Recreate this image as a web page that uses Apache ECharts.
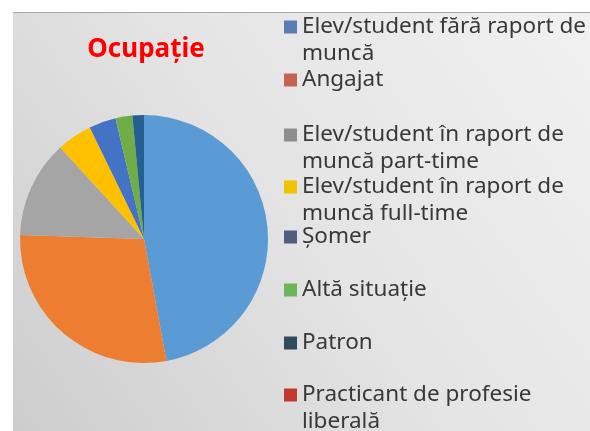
<!DOCTYPE html>
<html>
<head>
<meta charset="utf-8">
<script src="https://cdn.jsdelivr.net/npm/echarts@6/dist/echarts.min.js"></script>
<style>
  html, body { margin: 0; padding: 0; background: #ffffff; }
  #chart { width: 590px; height: 431px; }
</style>
</head>
<body>
<div id="chart"></div>
<script>
// categories (legend lines split where the original wraps)
var categories = [
  "Elev/student fără raport de\nmuncă",
  "Angajat",
  "Elev/student în raport de\nmuncă part-time",
  "Elev/student în raport de\nmuncă full-time",
  "Șomer",
  "Altă situație",
  "Patron",
  "Practicant de profesie\nliberală"
];
// share of respondents, %
var values = [47.1, 28.4, 12.7, 4.6, 3.5, 2.2, 1.5, 0];
var sliceColors = ["#5B9BD5", "#ED7D31", "#A5A5A5", "#FFC000", "#4472C4", "#70AD47", "#255E91", "#9E480E"];
var legendColors = ["#5A7CB0", "#C4634F", "#8E8E8E", "#F2C200", "#505F80", "#6BB55A", "#2E4A5C", "#C0392B"];
// marker centre (y) of each legend entry
var legendY = [27, 80, 135, 187, 237, 290, 343, 395];

var chart = echarts.init(document.getElementById("chart"));

// one legend per entry; wrapped names get an empty line on top so the
// marker sits next to the first line, like the original
var legends = categories.map(function (name, i) {
  var twoLines = name.indexOf("\n") >= 0;
  return {
    orient: "vertical",
    left: 284,
    top: twoLines ? legendY[i] - 40.5 : legendY[i] - 13.5,
    padding: 0,
    itemWidth: 13,
    itemHeight: 13,
    itemGap: 0,
    icon: "rect",
    selectedMode: false,
    data: [{ name: name, itemStyle: { color: legendColors[i] } }],
    formatter: function (n) {
      return n.indexOf("\n") >= 0 ? " \n" + n : n;
    },
    textStyle: {
      fontFamily: "Noto Sans",
      fontSize: 22.5,
      lineHeight: 27,
      color: "#383838"
    }
  };
});

var option = {
  animation: false,
  graphic: [
    {
      type: "rect",
      z: -10,
      shape: { x: 13, y: 12, width: 577, height: 419 },
      style: {
        fill: new echarts.graphic.LinearGradient(0, 1, 1, 0, [
          { offset: 0, color: "#cdcdcd" },
          { offset: 0.5, color: "#e4e4e4" },
          { offset: 1, color: "#f1f1f1" }
        ]),
        stroke: null
      }
    },
    {
      type: "line",
      z: -9,
      shape: { x1: 13, y1: 12.5, x2: 590, y2: 12.5 },
      style: { stroke: "#a8a8a8", lineWidth: 1 }
    },
    {
      type: "text",
      x: 146,
      y: 50,
      style: {
        text: "Ocupație",
        fontFamily: "Noto Sans",
        fontWeight: "bold",
        fontSize: 26,
        fill: "#ff0000",
        align: "center",
        verticalAlign: "middle"
      }
    }
  ],
  legend: legends,
  series: [
    {
      type: "pie",
      center: [144, 239],
      radius: 124,
      startAngle: 90,
      clockwise: true,
      silent: true,
      label: { show: false },
      labelLine: { show: false },
      itemStyle: { borderWidth: 0 },
      data: categories.map(function (name, i) {
        return { name: name, value: values[i], itemStyle: { color: sliceColors[i] } };
      })
    }
  ]
};

chart.setOption(option);
</script>
</body>
</html>
